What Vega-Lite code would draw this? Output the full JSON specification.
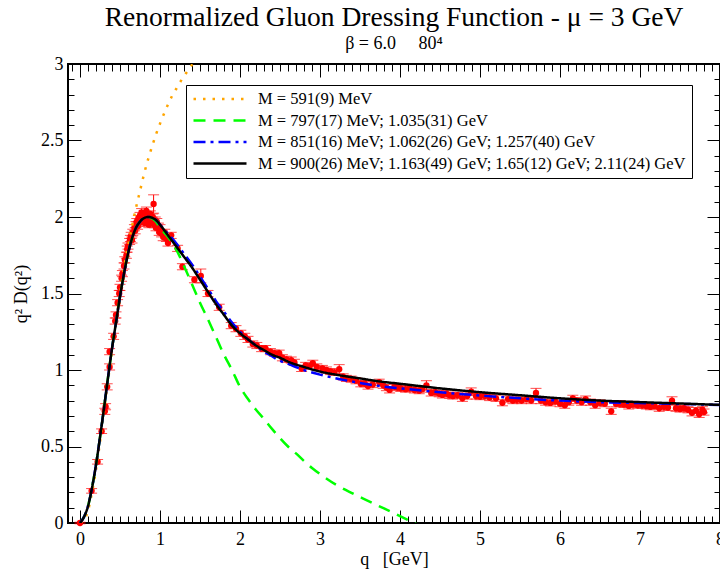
{
  "$schema": "https://vega.github.io/schema/vega-lite/v6.json",
  "width": 652,
  "height": 459,
  "autosize": {"type": "none"},
  "padding": {"left": 68, "top": 64, "right": 0, "bottom": 51},
  "background": "white",
  "title": {
    "text": "Renormalized Gluon Dressing Function - μ = 3 GeV",
    "subtitle": "β = 6.0\u00a0\u00a0\u00a0\u00a0\u00a080⁴",
    "font": "Liberation Serif",
    "fontSize": 27.5,
    "fontWeight": "normal",
    "color": "black",
    "subtitleFont": "Liberation Serif",
    "subtitleFontSize": 18,
    "subtitleColor": "black",
    "subtitlePadding": 4,
    "anchor": "middle",
    "offset": 2
  },
  "config": {
    "view": {"stroke": "black", "strokeWidth": 2},
    "axis": {"grid": false, "domain": false, "labelColor": "black", "tickColor": "black", "titleColor": "black"}
  },
  "datasets": {
    "curves": [
      {"q": 0, "y": 0, "s": "a"}, {"q": 0.05, "y": 0.02, "s": "a"}, {"q": 0.1, "y": 0.08, "s": "a"}, {"q": 0.15, "y": 0.2, "s": "a"}, {"q": 0.2, "y": 0.35, "s": "a"}, {"q": 0.25, "y": 0.53, "s": "a"}, {"q": 0.3, "y": 0.73, "s": "a"}, {"q": 0.35, "y": 0.93, "s": "a"}, {"q": 0.4, "y": 1.13, "s": "a"}, {"q": 0.45, "y": 1.32, "s": "a"}, {"q": 0.5, "y": 1.5, "s": "a"}, {"q": 0.55, "y": 1.67, "s": "a"}, {"q": 0.6, "y": 1.81, "s": "a"}, {"q": 0.65, "y": 1.94, "s": "a"}, {"q": 0.7, "y": 2.06, "s": "a"}, {"q": 0.75, "y": 2.17, "s": "a"}, {"q": 0.8, "y": 2.28, "s": "a"}, {"q": 0.85, "y": 2.375, "s": "a"}, {"q": 0.9, "y": 2.46, "s": "a"}, {"q": 0.95, "y": 2.54, "s": "a"}, {"q": 1.0, "y": 2.61, "s": "a"}, {"q": 1.05, "y": 2.675, "s": "a"}, {"q": 1.1, "y": 2.735, "s": "a"}, {"q": 1.15, "y": 2.79, "s": "a"}, {"q": 1.2, "y": 2.835, "s": "a"}, {"q": 1.25, "y": 2.88, "s": "a"}, {"q": 1.3, "y": 2.92, "s": "a"}, {"q": 1.35, "y": 2.958, "s": "a"}, {"q": 1.4, "y": 2.995, "s": "a"}, {"q": 1.45, "y": 3.03, "s": "a"},
      {"q": 0, "y": 0, "s": "b"}, {"q": 0.05, "y": 0.04, "s": "b"}, {"q": 0.1, "y": 0.11, "s": "b"}, {"q": 0.15, "y": 0.23, "s": "b"}, {"q": 0.2, "y": 0.38, "s": "b"}, {"q": 0.25, "y": 0.56, "s": "b"}, {"q": 0.3, "y": 0.75, "s": "b"}, {"q": 0.35, "y": 0.95, "s": "b"}, {"q": 0.4, "y": 1.14, "s": "b"}, {"q": 0.45, "y": 1.31, "s": "b"}, {"q": 0.5, "y": 1.48, "s": "b"}, {"q": 0.55, "y": 1.63, "s": "b"}, {"q": 0.6, "y": 1.76, "s": "b"}, {"q": 0.65, "y": 1.86, "s": "b"}, {"q": 0.7, "y": 1.93, "s": "b"}, {"q": 0.75, "y": 1.97, "s": "b"}, {"q": 0.8, "y": 1.993, "s": "b"}, {"q": 0.85, "y": 2.0, "s": "b"}, {"q": 0.9, "y": 1.99, "s": "b"}, {"q": 0.95, "y": 1.97, "s": "b"}, {"q": 1.0, "y": 1.93, "s": "b"}, {"q": 1.1, "y": 1.87, "s": "b"}, {"q": 1.2, "y": 1.79, "s": "b"}, {"q": 1.3, "y": 1.68, "s": "b"}, {"q": 1.4, "y": 1.56, "s": "b"}, {"q": 1.5, "y": 1.44, "s": "b"}, {"q": 1.6, "y": 1.33, "s": "b"}, {"q": 1.7, "y": 1.215, "s": "b"}, {"q": 1.8, "y": 1.1, "s": "b"}, {"q": 1.9, "y": 1.0, "s": "b"}, {"q": 2.0, "y": 0.89, "s": "b"}, {"q": 2.1, "y": 0.81, "s": "b"}, {"q": 2.2, "y": 0.74, "s": "b"}, {"q": 2.3, "y": 0.68, "s": "b"}, {"q": 2.4, "y": 0.615, "s": "b"}, {"q": 2.5, "y": 0.555, "s": "b"}, {"q": 2.6, "y": 0.5, "s": "b"}, {"q": 2.7, "y": 0.455, "s": "b"}, {"q": 2.8, "y": 0.405, "s": "b"}, {"q": 2.9, "y": 0.36, "s": "b"}, {"q": 3.0, "y": 0.32, "s": "b"}, {"q": 3.2, "y": 0.25, "s": "b"}, {"q": 3.4, "y": 0.195, "s": "b"}, {"q": 3.6, "y": 0.145, "s": "b"}, {"q": 3.8, "y": 0.095, "s": "b"}, {"q": 4.0, "y": 0.045, "s": "b"}, {"q": 4.2, "y": -0.005, "s": "b"},
      {"q": 0, "y": 0, "s": "c"}, {"q": 0.05, "y": 0.04, "s": "c"}, {"q": 0.1, "y": 0.11, "s": "c"}, {"q": 0.15, "y": 0.23, "s": "c"}, {"q": 0.2, "y": 0.38, "s": "c"}, {"q": 0.25, "y": 0.56, "s": "c"}, {"q": 0.3, "y": 0.75, "s": "c"}, {"q": 0.35, "y": 0.95, "s": "c"}, {"q": 0.4, "y": 1.14, "s": "c"}, {"q": 0.45, "y": 1.31, "s": "c"}, {"q": 0.5, "y": 1.48, "s": "c"}, {"q": 0.55, "y": 1.63, "s": "c"}, {"q": 0.6, "y": 1.76, "s": "c"}, {"q": 0.65, "y": 1.86, "s": "c"}, {"q": 0.7, "y": 1.93, "s": "c"}, {"q": 0.75, "y": 1.97, "s": "c"}, {"q": 0.8, "y": 1.993, "s": "c"}, {"q": 0.85, "y": 2.0, "s": "c"}, {"q": 0.9, "y": 1.995, "s": "c"}, {"q": 0.95, "y": 1.98, "s": "c"}, {"q": 1.0, "y": 1.95, "s": "c"}, {"q": 1.1, "y": 1.89, "s": "c"}, {"q": 1.2, "y": 1.83, "s": "c"}, {"q": 1.3, "y": 1.76, "s": "c"}, {"q": 1.4, "y": 1.69, "s": "c"}, {"q": 1.5, "y": 1.61, "s": "c"}, {"q": 1.6, "y": 1.53, "s": "c"}, {"q": 1.7, "y": 1.45, "s": "c"}, {"q": 1.8, "y": 1.38, "s": "c"}, {"q": 1.9, "y": 1.31, "s": "c"}, {"q": 2.0, "y": 1.25, "s": "c"}, {"q": 2.1, "y": 1.2, "s": "c"}, {"q": 2.2, "y": 1.16, "s": "c"}, {"q": 2.3, "y": 1.12, "s": "c"}, {"q": 2.4, "y": 1.09, "s": "c"}, {"q": 2.5, "y": 1.06, "s": "c"}, {"q": 2.6, "y": 1.04, "s": "c"}, {"q": 2.8, "y": 1.0, "s": "c"}, {"q": 3.0, "y": 0.97, "s": "c"}, {"q": 3.25, "y": 0.94, "s": "c"}, {"q": 3.5, "y": 0.915, "s": "c"}, {"q": 3.75, "y": 0.895, "s": "c"}, {"q": 4.0, "y": 0.88, "s": "c"}, {"q": 4.5, "y": 0.855, "s": "c"}, {"q": 5.0, "y": 0.833, "s": "c"}, {"q": 5.5, "y": 0.815, "s": "c"}, {"q": 6.0, "y": 0.8, "s": "c"}, {"q": 6.5, "y": 0.79, "s": "c"}, {"q": 7.0, "y": 0.784, "s": "c"}, {"q": 7.5, "y": 0.778, "s": "c"}, {"q": 8.0, "y": 0.772, "s": "c"},
      {"q": 0, "y": 0, "s": "d"}, {"q": 0.05, "y": 0.04, "s": "d"}, {"q": 0.1, "y": 0.11, "s": "d"}, {"q": 0.15, "y": 0.23, "s": "d"}, {"q": 0.2, "y": 0.38, "s": "d"}, {"q": 0.25, "y": 0.56, "s": "d"}, {"q": 0.3, "y": 0.75, "s": "d"}, {"q": 0.35, "y": 0.95, "s": "d"}, {"q": 0.4, "y": 1.14, "s": "d"}, {"q": 0.45, "y": 1.31, "s": "d"}, {"q": 0.5, "y": 1.48, "s": "d"}, {"q": 0.55, "y": 1.63, "s": "d"}, {"q": 0.6, "y": 1.76, "s": "d"}, {"q": 0.65, "y": 1.86, "s": "d"}, {"q": 0.7, "y": 1.93, "s": "d"}, {"q": 0.75, "y": 1.97, "s": "d"}, {"q": 0.8, "y": 1.993, "s": "d"}, {"q": 0.85, "y": 2.0, "s": "d"}, {"q": 0.9, "y": 1.995, "s": "d"}, {"q": 0.95, "y": 1.98, "s": "d"}, {"q": 1.0, "y": 1.95, "s": "d"}, {"q": 1.1, "y": 1.88, "s": "d"}, {"q": 1.2, "y": 1.81, "s": "d"}, {"q": 1.3, "y": 1.74, "s": "d"}, {"q": 1.4, "y": 1.67, "s": "d"}, {"q": 1.5, "y": 1.59, "s": "d"}, {"q": 1.6, "y": 1.51, "s": "d"}, {"q": 1.7, "y": 1.43, "s": "d"}, {"q": 1.8, "y": 1.36, "s": "d"}, {"q": 1.9, "y": 1.29, "s": "d"}, {"q": 2.0, "y": 1.24, "s": "d"}, {"q": 2.1, "y": 1.2, "s": "d"}, {"q": 2.2, "y": 1.16, "s": "d"}, {"q": 2.3, "y": 1.13, "s": "d"}, {"q": 2.4, "y": 1.1, "s": "d"}, {"q": 2.5, "y": 1.08, "s": "d"}, {"q": 2.6, "y": 1.055, "s": "d"}, {"q": 2.8, "y": 1.02, "s": "d"}, {"q": 3.0, "y": 0.99, "s": "d"}, {"q": 3.25, "y": 0.965, "s": "d"}, {"q": 3.5, "y": 0.945, "s": "d"}, {"q": 3.75, "y": 0.925, "s": "d"}, {"q": 4.0, "y": 0.91, "s": "d"}, {"q": 4.5, "y": 0.88, "s": "d"}, {"q": 5.0, "y": 0.855, "s": "d"}, {"q": 5.5, "y": 0.835, "s": "d"}, {"q": 6.0, "y": 0.815, "s": "d"}, {"q": 6.5, "y": 0.8, "s": "d"}, {"q": 7.0, "y": 0.79, "s": "d"}, {"q": 7.5, "y": 0.781, "s": "d"}, {"q": 8.0, "y": 0.772, "s": "d"}
    ],
    "points": [
      {"q": 0, "y": 0, "err": 0.005}, {"q": 0.145, "y": 0.21, "err": 0.015}, {"q": 0.22, "y": 0.4, "err": 0.015}, {"q": 0.27, "y": 0.6, "err": 0.015}, {"q": 0.31, "y": 0.73, "err": 0.02}, {"q": 0.32, "y": 0.76, "err": 0.02}, {"q": 0.34, "y": 0.89, "err": 0.02}, {"q": 0.37, "y": 1.02, "err": 0.02}, {"q": 0.37, "y": 1.12, "err": 0.02},
      {"q": 0.42, "y": 1.22, "err": 0.02}, {"q": 0.44, "y": 1.32, "err": 0.02}, {"q": 0.45, "y": 1.36, "err": 0.02}, {"q": 0.47, "y": 1.44, "err": 0.02}, {"q": 0.49, "y": 1.5, "err": 0.02}, {"q": 0.5, "y": 1.54, "err": 0.02}, {"q": 0.52, "y": 1.6, "err": 0.02}, {"q": 0.53, "y": 1.63, "err": 0.02}, {"q": 0.55, "y": 1.68, "err": 0.02}, {"q": 0.56, "y": 1.72, "err": 0.02}, {"q": 0.58, "y": 1.75, "err": 0.02}, {"q": 0.59, "y": 1.79, "err": 0.02}, {"q": 0.6, "y": 1.81, "err": 0.02}, {"q": 0.62, "y": 1.84, "err": 0.02}, {"q": 0.63, "y": 1.86, "err": 0.02}, {"q": 0.64, "y": 1.88, "err": 0.02}, {"q": 0.65, "y": 1.85, "err": 0.02}, {"q": 0.66, "y": 1.9, "err": 0.02}, {"q": 0.68, "y": 1.93, "err": 0.02}, {"q": 0.69, "y": 1.91, "err": 0.02}, {"q": 0.7, "y": 1.95, "err": 0.02}, {"q": 0.71, "y": 1.97, "err": 0.02}, {"q": 0.72, "y": 1.94, "err": 0.02}, {"q": 0.73, "y": 1.99, "err": 0.02}, {"q": 0.74, "y": 1.96, "err": 0.02}, {"q": 0.75, "y": 2.01, "err": 0.02}, {"q": 0.76, "y": 1.98, "err": 0.02}, {"q": 0.77, "y": 2.03, "err": 0.025}, {"q": 0.78, "y": 1.97, "err": 0.02}, {"q": 0.79, "y": 2.0, "err": 0.02}, {"q": 0.8, "y": 2.02, "err": 0.02}, {"q": 0.81, "y": 1.96, "err": 0.02}, {"q": 0.82, "y": 1.99, "err": 0.02}, {"q": 0.83, "y": 2.04, "err": 0.025}, {"q": 0.84, "y": 1.97, "err": 0.02}, {"q": 0.85, "y": 2.01, "err": 0.02}, {"q": 0.86, "y": 1.95, "err": 0.02}, {"q": 0.87, "y": 1.99, "err": 0.02}, {"q": 0.88, "y": 2.02, "err": 0.02}, {"q": 0.89, "y": 1.96, "err": 0.02}, {"q": 0.9, "y": 1.98, "err": 0.02}, {"q": 0.91, "y": 2.0, "err": 0.02}, {"q": 0.92, "y": 2.085, "err": 0.06}, {"q": 0.93, "y": 1.95, "err": 0.02}, {"q": 0.94, "y": 1.98, "err": 0.02}, {"q": 0.95, "y": 1.93, "err": 0.02}, {"q": 0.96, "y": 1.97, "err": 0.02}, {"q": 0.98, "y": 1.94, "err": 0.02}, {"q": 0.99, "y": 1.9, "err": 0.02}, {"q": 1.0, "y": 1.93, "err": 0.02}, {"q": 1.02, "y": 1.89, "err": 0.02}, {"q": 1.04, "y": 1.87, "err": 0.025}, {"q": 1.06, "y": 1.9, "err": 0.02}, {"q": 1.08, "y": 1.86, "err": 0.02}, {"q": 1.1, "y": 1.83, "err": 0.02}, {"q": 1.14, "y": 1.88, "err": 0.02},
      {"q": 1.22, "y": 1.795, "err": 0.02}, {"q": 1.28, "y": 1.675, "err": 0.02}, {"q": 1.43, "y": 1.59, "err": 0.02}, {"q": 1.51, "y": 1.615, "err": 0.045}, {"q": 1.6, "y": 1.5, "err": 0.02}, {"q": 1.74, "y": 1.41, "err": 0.02}, {"q": 1.89, "y": 1.29, "err": 0.02}, {"q": 1.95, "y": 1.27, "err": 0.02}, {"q": 2.01, "y": 1.24, "err": 0.02}, {"q": 2.06, "y": 1.22, "err": 0.02}, {"q": 2.1, "y": 1.2, "err": 0.02}, {"q": 2.16, "y": 1.17, "err": 0.02}, {"q": 2.21, "y": 1.16, "err": 0.02}, {"q": 2.27, "y": 1.14, "err": 0.02}, {"q": 2.32, "y": 1.14, "err": 0.02}, {"q": 2.38, "y": 1.12, "err": 0.02}, {"q": 2.43, "y": 1.11, "err": 0.02}, {"q": 2.49, "y": 1.11, "err": 0.02}, {"q": 2.53, "y": 1.08, "err": 0.02}, {"q": 2.58, "y": 1.07, "err": 0.02}, {"q": 2.64, "y": 1.065, "err": 0.02}, {"q": 2.68, "y": 1.05, "err": 0.02}, {"q": 2.77, "y": 1.01, "err": 0.02}, {"q": 2.82, "y": 1.03, "err": 0.02}, {"q": 2.87, "y": 1.025, "err": 0.02}, {"q": 2.91, "y": 1.044, "err": 0.02}, {"q": 2.96, "y": 1.02, "err": 0.02}, {"q": 3.03, "y": 1.01, "err": 0.02}, {"q": 3.08, "y": 1.0, "err": 0.02}, {"q": 3.13, "y": 0.99, "err": 0.02}, {"q": 3.18, "y": 0.985, "err": 0.02}, {"q": 3.24, "y": 1.005, "err": 0.03}, {"q": 3.29, "y": 0.955, "err": 0.02}, {"q": 3.33, "y": 0.945, "err": 0.02}, {"q": 3.39, "y": 0.94, "err": 0.02}, {"q": 3.45, "y": 0.93, "err": 0.02}, {"q": 3.51, "y": 0.91, "err": 0.02}, {"q": 3.56, "y": 0.91, "err": 0.02}, {"q": 3.6, "y": 0.895, "err": 0.02}, {"q": 3.66, "y": 0.905, "err": 0.02}, {"q": 3.74, "y": 0.92, "err": 0.02}, {"q": 3.79, "y": 0.9, "err": 0.02}, {"q": 3.83, "y": 0.885, "err": 0.02}, {"q": 3.87, "y": 0.87, "err": 0.02}, {"q": 3.93, "y": 0.89, "err": 0.02}, {"q": 3.97, "y": 0.885, "err": 0.02}, {"q": 4.01, "y": 0.88, "err": 0.02}, {"q": 4.07, "y": 0.875, "err": 0.02}, {"q": 4.12, "y": 0.88, "err": 0.02}, {"q": 4.18, "y": 0.87, "err": 0.02}, {"q": 4.24, "y": 0.865, "err": 0.02}, {"q": 4.28, "y": 0.875, "err": 0.02}, {"q": 4.33, "y": 0.9, "err": 0.03}, {"q": 4.39, "y": 0.85, "err": 0.02}, {"q": 4.44, "y": 0.855, "err": 0.02}, {"q": 4.49, "y": 0.845, "err": 0.02}, {"q": 4.53, "y": 0.837, "err": 0.02}, {"q": 4.58, "y": 0.845, "err": 0.02}, {"q": 4.62, "y": 0.835, "err": 0.02}, {"q": 4.66, "y": 0.83, "err": 0.02}, {"q": 4.72, "y": 0.835, "err": 0.02}, {"q": 4.78, "y": 0.815, "err": 0.02}, {"q": 4.84, "y": 0.83, "err": 0.02}, {"q": 4.89, "y": 0.858, "err": 0.025}, {"q": 4.95, "y": 0.83, "err": 0.02}, {"q": 5.0, "y": 0.826, "err": 0.02}, {"q": 5.06, "y": 0.83, "err": 0.02}, {"q": 5.12, "y": 0.82, "err": 0.02},
      {"q": 5.2, "y": 0.815, "err": 0.02}, {"q": 5.28, "y": 0.786, "err": 0.02}, {"q": 5.35, "y": 0.81, "err": 0.02}, {"q": 5.41, "y": 0.8, "err": 0.02}, {"q": 5.46, "y": 0.805, "err": 0.02}, {"q": 5.52, "y": 0.8, "err": 0.02}, {"q": 5.58, "y": 0.81, "err": 0.02}, {"q": 5.64, "y": 0.8, "err": 0.02}, {"q": 5.7, "y": 0.85, "err": 0.03}, {"q": 5.76, "y": 0.8, "err": 0.02}, {"q": 5.82, "y": 0.79, "err": 0.02}, {"q": 5.88, "y": 0.785, "err": 0.02}, {"q": 5.94, "y": 0.795, "err": 0.02}, {"q": 6.0, "y": 0.78, "err": 0.02}, {"q": 6.06, "y": 0.77, "err": 0.02}, {"q": 6.11, "y": 0.79, "err": 0.02}, {"q": 6.16, "y": 0.815, "err": 0.02}, {"q": 6.21, "y": 0.8, "err": 0.02}, {"q": 6.27, "y": 0.79, "err": 0.02}, {"q": 6.32, "y": 0.81, "err": 0.02}, {"q": 6.38, "y": 0.79, "err": 0.02}, {"q": 6.44, "y": 0.77, "err": 0.02}, {"q": 6.5, "y": 0.785, "err": 0.02}, {"q": 6.56, "y": 0.78, "err": 0.02}, {"q": 6.64, "y": 0.73, "err": 0.02}, {"q": 6.7, "y": 0.78, "err": 0.02}, {"q": 6.75, "y": 0.78, "err": 0.02}, {"q": 6.8, "y": 0.775, "err": 0.02}, {"q": 6.86, "y": 0.765, "err": 0.02}, {"q": 6.91, "y": 0.775, "err": 0.02}, {"q": 6.97, "y": 0.77, "err": 0.02}, {"q": 7.03, "y": 0.77, "err": 0.02}, {"q": 7.08, "y": 0.765, "err": 0.02}, {"q": 7.13, "y": 0.76, "err": 0.02}, {"q": 7.18, "y": 0.765, "err": 0.02}, {"q": 7.24, "y": 0.75, "err": 0.02}, {"q": 7.3, "y": 0.76, "err": 0.02}, {"q": 7.35, "y": 0.755, "err": 0.02}, {"q": 7.4, "y": 0.8, "err": 0.025}, {"q": 7.45, "y": 0.75, "err": 0.02}, {"q": 7.5, "y": 0.745, "err": 0.02}, {"q": 7.55, "y": 0.75, "err": 0.02}, {"q": 7.6, "y": 0.74, "err": 0.02}, {"q": 7.65, "y": 0.72, "err": 0.02}, {"q": 7.7, "y": 0.735, "err": 0.02}, {"q": 7.74, "y": 0.71, "err": 0.02}, {"q": 7.78, "y": 0.74, "err": 0.02}, {"q": 7.8, "y": 0.725, "err": 0.02}
    ]
  },
  "resolve": {"axis": {"x": "independent", "y": "independent"}},
  "layer": [
    {
      "data": {"name": "points"},
      "mark": {"type": "errorbar", "color": "#FF0000", "thickness": 1, "ticks": {"size": 11, "thickness": 1, "color": "#FF0000"}},
      "encoding": {
        "x": {"field": "q", "type": "quantitative", "scale": {"domain": [-0.15, 8], "nice": false, "zero": false},
          "axis": {"orient": "top", "title": null, "labels": false, "domain": false,
            "values": [-0.1,0,0.1,0.2,0.3,0.4,0.5,0.6,0.7,0.8,0.9,1,1.1,1.2,1.3,1.4,1.5,1.6,1.7,1.8,1.9,2,2.1,2.2,2.3,2.4,2.5,2.6,2.7,2.8,2.9,3,3.1,3.2,3.3,3.4,3.5,3.6,3.7,3.8,3.9,4,4.1,4.2,4.3,4.4,4.5,4.6,4.7,4.8,4.9,5,5.1,5.2,5.3,5.4,5.5,5.6,5.7,5.8,5.9,6,6.1,6.2,6.3,6.4,6.5,6.6,6.7,6.8,6.9,7,7.1,7.2,7.3,7.4,7.5,7.6,7.7,7.8,7.9,8],
            "tickWidth": 1, "tickColor": "black",
            "tickSize": {"condition": {"test": "abs(datum.value - round(datum.value)) < 0.001", "value": -13}, "value": -7}}},
        "y": {"field": "y", "type": "quantitative", "scale": {"domain": [0, 3], "nice": false, "zero": false},
          "axis": {"orient": "right", "title": null, "labels": false, "domain": false,
            "values": [0,0.1,0.2,0.3,0.4,0.5,0.6,0.7,0.8,0.9,1,1.1,1.2,1.3,1.4,1.5,1.6,1.7,1.8,1.9,2,2.1,2.2,2.3,2.4,2.5,2.6,2.7,2.8,2.9,3],
            "tickWidth": 1, "tickColor": "black",
            "tickSize": {"condition": {"test": "abs(datum.value*2 - round(datum.value*2)) < 0.001", "value": -13}, "value": -6}}},
        "yError": {"field": "err"}
      }
    },
    {
      "data": {"name": "points"},
      "mark": {"type": "circle", "color": "#FF0000", "opacity": 1, "size": 40},
      "encoding": {
        "x": {"field": "q", "type": "quantitative",
          "axis": {"orient": "bottom", "title": null, "labels": false, "domain": false,
            "values": [-0.1,0,0.1,0.2,0.3,0.4,0.5,0.6,0.7,0.8,0.9,1,1.1,1.2,1.3,1.4,1.5,1.6,1.7,1.8,1.9,2,2.1,2.2,2.3,2.4,2.5,2.6,2.7,2.8,2.9,3,3.1,3.2,3.3,3.4,3.5,3.6,3.7,3.8,3.9,4,4.1,4.2,4.3,4.4,4.5,4.6,4.7,4.8,4.9,5,5.1,5.2,5.3,5.4,5.5,5.6,5.7,5.8,5.9,6,6.1,6.2,6.3,6.4,6.5,6.6,6.7,6.8,6.9,7,7.1,7.2,7.3,7.4,7.5,7.6,7.7,7.8,7.9,8],
            "tickWidth": 1, "tickColor": "black",
            "tickSize": {"condition": {"test": "abs(datum.value - round(datum.value)) < 0.001", "value": -13}, "value": -7}}},
        "y": {"field": "y", "type": "quantitative",
          "axis": {"orient": "left", "title": null, "labels": false, "domain": false,
            "values": [0,0.1,0.2,0.3,0.4,0.5,0.6,0.7,0.8,0.9,1,1.1,1.2,1.3,1.4,1.5,1.6,1.7,1.8,1.9,2,2.1,2.2,2.3,2.4,2.5,2.6,2.7,2.8,2.9,3],
            "tickWidth": 1, "tickColor": "black",
            "tickSize": {"condition": {"test": "abs(datum.value*2 - round(datum.value*2)) < 0.001", "value": -13}, "value": -6}}}
      }
    },
    {
      "data": {"name": "curves"},
      "mark": {"type": "line", "strokeWidth": 2.5, "clip": true, "interpolate": "monotone"},
      "encoding": {
        "x": {"field": "q", "type": "quantitative",
          "axis": {"orient": "bottom", "values": [0,1,2,3,4,5,6,7,8], "format": "d", "ticks": false, "domain": false,
            "labelFont": "Liberation Serif", "labelFontSize": 18, "labelPadding": 7, "labelOverlap": false, "labelFlush": false,
            "title": "q\u00a0\u00a0\u00a0[GeV]", "titleFont": "Liberation Serif", "titleFontSize": 18, "titleFontWeight": "normal", "titlePadding": 2}},
        "y": {"field": "y", "type": "quantitative",
          "axis": {"orient": "left", "values": [0,0.5,1,1.5,2,2.5,3], "format": "~g", "ticks": false, "domain": false,
            "labelFont": "Liberation Serif", "labelFontSize": 18, "labelPadding": 5, "labelOverlap": false, "labelFlush": false,
            "title": "q² D(q²)", "titleFont": "Liberation Serif", "titleFontSize": 18, "titleFontWeight": "normal", "titlePadding": 10}},
        "color": {"field": "s", "type": "nominal",
          "scale": {"domain": ["a", "b", "c", "d"], "range": ["#FFA500", "#00FF00", "#0000FF", "#000000"]},
          "legend": {"title": null, "orient": "none", "legendX": 118, "legendY": 21, "direction": "vertical",
            "symbolType": "stroke", "symbolSize": 2809, "symbolStrokeWidth": 2.5, "clipHeight": 16,
            "labelFont": "Liberation Serif", "labelFontSize": 16.5, "labelColor": "black", "labelLimit": 700, "labelOffset": 10,
            "padding": 6, "rowPadding": 4.5, "strokeColor": "black", "fillColor": "white",
            "labelExpr": "datum.label == 'a' ? 'M = 591(9) MeV' : datum.label == 'b' ? 'M = 797(17) MeV; 1.035(31) GeV' : datum.label == 'c' ? 'M = 851(16) MeV; 1.062(26) GeV; 1.257(40) GeV' : 'M = 900(26) MeV; 1.163(49) GeV; 1.65(12) GeV; 2.11(24) GeV'"}},
        "strokeDash": {"field": "s", "type": "nominal",
          "scale": {"domain": ["a", "b", "c", "d"], "range": [[2.5, 7], [12, 8], [12, 5, 3, 5], [1, 0]]},
          "legend": {"title": null, "orient": "none", "legendX": 118, "legendY": 21, "direction": "vertical",
            "symbolType": "stroke", "symbolSize": 2809, "symbolStrokeWidth": 2.5, "clipHeight": 16,
            "labelFont": "Liberation Serif", "labelFontSize": 16.5, "labelColor": "black", "labelLimit": 700, "labelOffset": 10,
            "padding": 6, "rowPadding": 4.5, "strokeColor": "black", "fillColor": "white",
            "labelExpr": "datum.label == 'a' ? 'M = 591(9) MeV' : datum.label == 'b' ? 'M = 797(17) MeV; 1.035(31) GeV' : datum.label == 'c' ? 'M = 851(16) MeV; 1.062(26) GeV; 1.257(40) GeV' : 'M = 900(26) MeV; 1.163(49) GeV; 1.65(12) GeV; 2.11(24) GeV'"}}
      }
    }
  ]
}
